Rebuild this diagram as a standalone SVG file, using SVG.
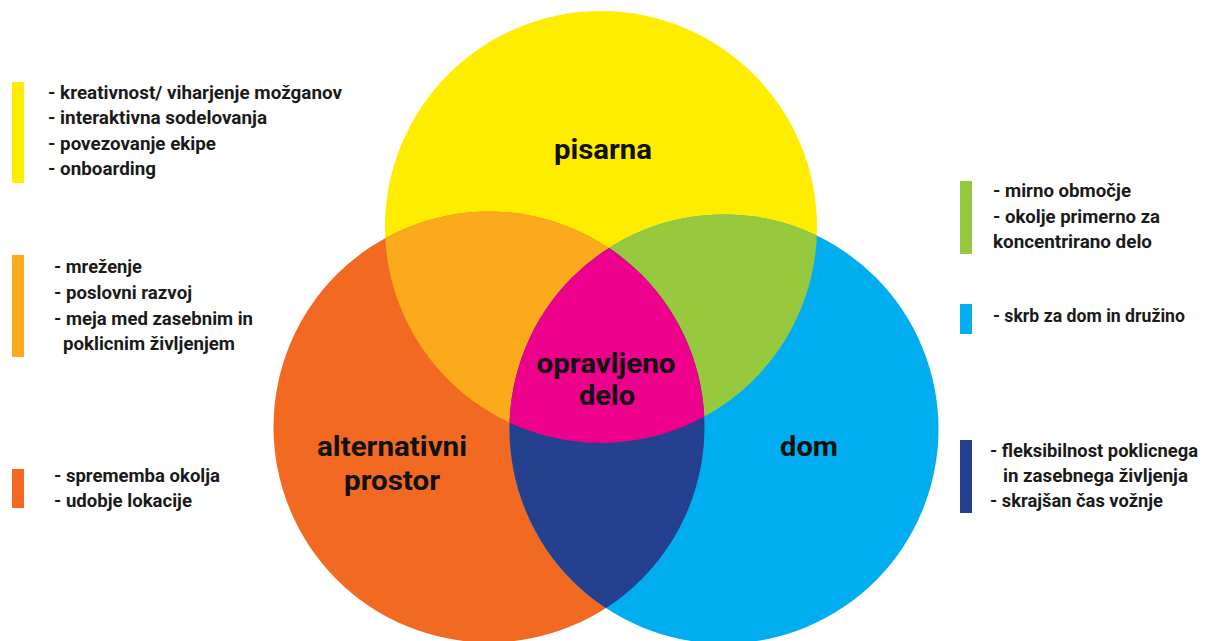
<svg xmlns="http://www.w3.org/2000/svg" width="1209" height="641" viewBox="0 0 1209 641">
<style>
.t{font-family:Roboto,"Liberation Sans",sans-serif;font-weight:700;fill:#1a1a1a;font-size:18px}
.c{font-family:Roboto,"Liberation Sans",sans-serif;font-weight:700;fill:#111;font-size:28px;text-anchor:middle}
</style>
<defs>
<clipPath id="c-orange"><circle cx="489" cy="427" r="215.5"/></clipPath>
<clipPath id="c-blue"><circle cx="724" cy="429" r="214.5"/></clipPath>
</defs>
<rect width="1209" height="641" fill="#fff"/>
<g id="pisarna"><circle cx="601" cy="227" r="216" fill="#FFED00"/></g>
<g id="alternativni-prostor"><circle cx="489" cy="427" r="215.5" fill="#F26922"/></g>
<g id="dom"><circle cx="724" cy="429" r="214.5" fill="#00AEEF"/></g>
<g id="pisarna-alternativni" clip-path="url(#c-orange)"><circle cx="601" cy="227" r="216" fill="#FBAA1C"/></g>
<g id="pisarna-dom" clip-path="url(#c-blue)"><circle cx="601" cy="227" r="216" fill="#96C93D"/></g>
<g id="alternativni-dom" clip-path="url(#c-blue)"><circle cx="489" cy="427" r="215.5" fill="#25408F"/></g>
<g id="opravljeno-delo" clip-path="url(#c-orange)"><g clip-path="url(#c-blue)"><circle cx="601" cy="227" r="216" fill="#EC008C"/></g></g>
<g id="labels">
<text class="c" x="603" y="159" textLength="98" lengthAdjust="spacingAndGlyphs">pisarna</text>
<text class="c" x="606" y="373" textLength="139" lengthAdjust="spacingAndGlyphs">opravljeno</text>
<text class="c" x="607" y="405" textLength="56" lengthAdjust="spacingAndGlyphs">delo</text>
<text class="c" x="392" y="456" textLength="150" lengthAdjust="spacingAndGlyphs">alternativni</text>
<text class="c" x="392" y="490" textLength="96" lengthAdjust="spacingAndGlyphs">prostor</text>
<text class="c" x="809" y="456" textLength="58" lengthAdjust="spacingAndGlyphs">dom</text>
</g>
<g id="legend-pisarna">
<rect x="12" y="82" width="12" height="101" fill="#FFED00"/>
<text class="t" x="48" y="99" textLength="294" lengthAdjust="spacingAndGlyphs">- kreativnost/ viharjenje možganov</text>
<text class="t" x="48" y="124" textLength="219" lengthAdjust="spacingAndGlyphs">- interaktivna sodelovanja</text>
<text class="t" x="48" y="150" textLength="168" lengthAdjust="spacingAndGlyphs">- povezovanje ekipe</text>
<text class="t" x="48" y="175" textLength="108" lengthAdjust="spacingAndGlyphs">- onboarding</text>
</g>
<g id="legend-pisarna-alternativni">
<rect x="12" y="255" width="12" height="102" fill="#FBAA1C"/>
<text class="t" x="54" y="273" textLength="88" lengthAdjust="spacingAndGlyphs">- mreženje</text>
<text class="t" x="54" y="299" textLength="138" lengthAdjust="spacingAndGlyphs">- poslovni razvoj</text>
<text class="t" x="54" y="325" textLength="199" lengthAdjust="spacingAndGlyphs">- meja med zasebnim in</text>
<text class="t" x="63" y="350" textLength="172" lengthAdjust="spacingAndGlyphs">poklicnim življenjem</text>
</g>
<g id="legend-alternativni">
<rect x="12" y="469" width="12" height="39" fill="#F26922"/>
<text class="t" x="54" y="482" textLength="166" lengthAdjust="spacingAndGlyphs">- sprememba okolja</text>
<text class="t" x="54" y="507" textLength="138" lengthAdjust="spacingAndGlyphs">- udobje lokacije</text>
</g>
<g id="legend-pisarna-dom">
<rect x="960" y="181" width="12" height="73" fill="#96C93D"/>
<text class="t" x="993" y="197" textLength="138" lengthAdjust="spacingAndGlyphs">- mirno območje</text>
<text class="t" x="993" y="223" textLength="167" lengthAdjust="spacingAndGlyphs">- okolje primerno za</text>
<text class="t" x="993" y="248" textLength="159" lengthAdjust="spacingAndGlyphs">koncentrirano delo</text>
</g>
<g id="legend-dom">
<rect x="960" y="304" width="12" height="30" fill="#00AEEF"/>
<text class="t" x="993" y="322" textLength="192" lengthAdjust="spacingAndGlyphs">- skrb za dom in družino</text>
</g>
<g id="legend-alternativni-dom">
<rect x="960" y="440" width="12" height="73" fill="#25408F"/>
<text class="t" x="990" y="457" textLength="208" lengthAdjust="spacingAndGlyphs">- fleksibilnost poklicnega</text>
<text class="t" x="1003" y="482" textLength="185" lengthAdjust="spacingAndGlyphs">in zasebnega življenja</text>
<text class="t" x="990" y="507" textLength="173" lengthAdjust="spacingAndGlyphs">- skrajšan čas vožnje</text>
</g>
</svg>
